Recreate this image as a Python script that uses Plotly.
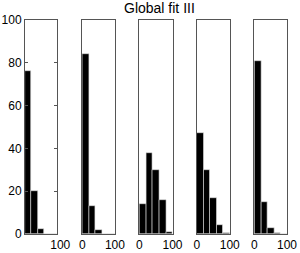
import plotly.graph_objects as go

bin_centers = [10, 30, 50, 70, 90]
panel1 = [76, 20, 2.5, 0, 0]
panel2 = [84, 13, 2, 0, 0]
panel3 = [14, 38, 30, 16, 1]
panel4 = [47, 30, 17, 4, 0.5]
panel5 = [81, 15, 3, 0.5, 0]
panels = [panel1, panel2, panel3, panel4, panel5]
y_ticks = [0, 20, 40, 60, 80, 100]
title_text = "Global fit III"

W, H = 300, 253
ml, mr, mt, mb = 25, 12.7, 19.5, 18.7
pw = W - ml - mr
edges = [(25, 57.3), (82.3, 115), (139.5, 172.7), (197, 230), (254.7, 287.3)]

fig = go.Figure()
font = dict(family="Liberation Sans, Arial, sans-serif", size=12, color="black")
lay = dict(
    width=W, height=H,
    margin=dict(l=ml, r=mr, t=mt, b=mb, pad=0, autoexpand=False),
    paper_bgcolor="white", plot_bgcolor="white",
    showlegend=False, bargap=0, font=font,
)
for i, vals in enumerate(panels):
    n = "" if i == 0 else str(i + 1)
    fig.add_trace(go.Bar(
        x=bin_centers, y=vals, width=20,
        marker=dict(color="black", line=dict(color="#dddddd", width=0.6)),
        xaxis="x" + n, yaxis="y" + n,
    ))
    a, b = edges[i]
    dom = [(a - ml) / pw, (b - ml) / pw]
    xa = dict(
        domain=dom, range=[0, 100], anchor="y" + n, automargin=False,
        tickvals=[100] if i == 0 else [0, 100],
        ticktext=["100"] if i == 0 else ["0", "100"],
        ticks="", showline=True, mirror=True, linecolor="#555555", linewidth=1,
        showgrid=False, zeroline=False, fixedrange=True, tickfont=font,
    )
    if i == 0:
        xa["ticklabelshift"] = 3
    lay["xaxis" + n] = xa
    ya = dict(
        range=[0, 100], anchor="x" + n, showline=True, mirror=True,
        linecolor="#555555", linewidth=1, showgrid=False, zeroline=False,
        fixedrange=True, automargin=False,
    )
    if i == 0:
        ya.update(tickvals=y_ticks, ticks="inside", ticklen=3, tickcolor="#555555",
                  showticklabels=True, tickfont=font, mirror="ticks")
    else:
        ya.update(showticklabels=False, ticks="")
    lay["yaxis" + n] = ya

fig.update_layout(**lay)
fig.add_annotation(
    text=title_text, xref="paper", yref="paper", x=(160 - ml) / pw, y=1,
    xanchor="center", yanchor="bottom", yshift=2, showarrow=False,
    font=dict(family="Liberation Sans, Arial, sans-serif", size=14, color="black"),
)
fig.write_html("out.html", config={"displayModeBar": False},
               post_script="document.body.style.margin='0';document.body.style.overflow='hidden';")
